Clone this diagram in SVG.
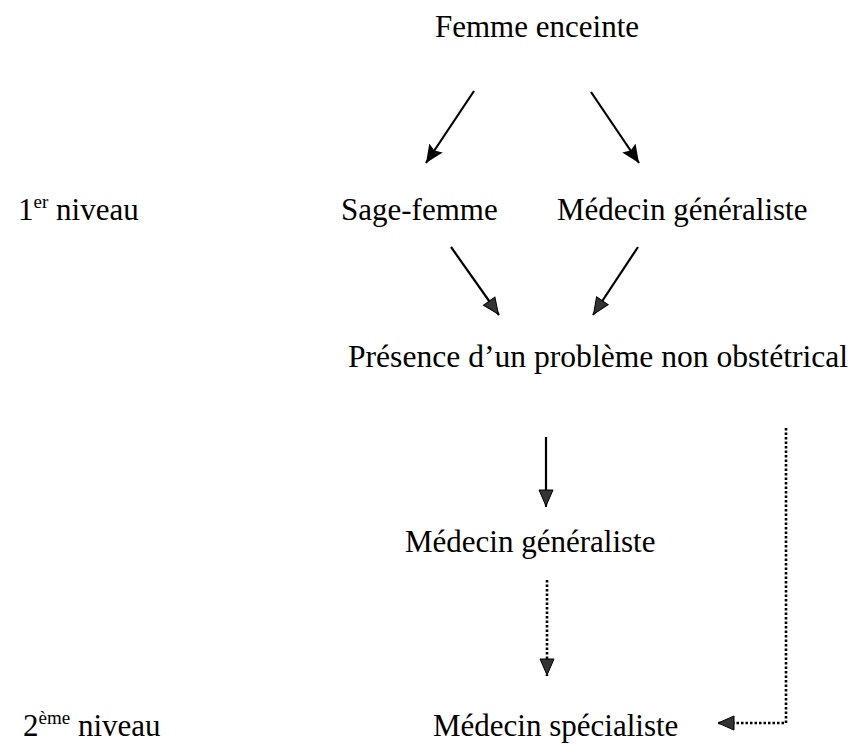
<svg xmlns="http://www.w3.org/2000/svg" width="853" height="748" viewBox="0 0 853 748">
<style>
text{font-family:"Liberation Serif","Times New Roman",serif;font-size:31px;fill:#000}
.sup{font-size:19px}
.c{fill:none;stroke:#000;stroke-width:2.2}
.dot{stroke-dasharray:2.5,2;stroke-width:2.6}
</style>
<defs>
<marker id="ab" markerUnits="userSpaceOnUse" markerWidth="20" markerHeight="18" refX="18" refY="8" orient="auto" viewBox="0 0 20 18"><path d="M0,0 L18,8 L0,16 L3,8 z" fill="#000"/></marker>
<marker id="ag" markerUnits="userSpaceOnUse" markerWidth="20" markerHeight="18" refX="18" refY="8" orient="auto" viewBox="0 0 20 18"><path d="M1,1 L17,8 L1,15 z" fill="#333" stroke="#000" stroke-width="1"/></marker>
</defs>
<g id="n-femme"><text x="435" y="37">Femme enceinte</text></g>
<g id="l-niveau1"><text x="18" y="220">1<tspan class="sup" dy="-12">er</tspan><tspan dy="12"> niveau</tspan></text></g>
<g id="n-sage"><text x="341" y="220">Sage-femme</text></g>
<g id="n-medgen1"><text x="557" y="220">Médecin généraliste</text></g>
<g id="n-probleme"><text x="348" y="367" style="font-size:31.6px">Présence d’un problème non obstétrical</text></g>
<g id="n-medgen2"><text x="405" y="552">Médecin généraliste</text></g>
<g id="l-niveau2"><text x="23" y="736">2<tspan class="sup" dy="-12">ème</tspan><tspan dy="12"> niveau</tspan></text></g>
<g id="n-specialiste"><text x="433" y="736">Médecin spécialiste</text></g>
<g id="connectors">
<line class="c" x1="474" y1="91" x2="426" y2="163" marker-end="url(#ab)"/>
<line class="c" x1="591" y1="92" x2="639" y2="163" marker-end="url(#ab)"/>
<line class="c" x1="451" y1="247" x2="499" y2="315" marker-end="url(#ag)"/>
<line class="c" x1="638" y1="247" x2="593" y2="315" marker-end="url(#ag)"/>
<line class="c" x1="546" y1="437" x2="546" y2="507" marker-end="url(#ag)"/>
<line class="c dot" x1="547" y1="580" x2="547" y2="676" marker-end="url(#ag)"/>
<polyline class="c dot" points="786,428 786,723 717,723" marker-end="url(#ag)"/>
</g>
</svg>
